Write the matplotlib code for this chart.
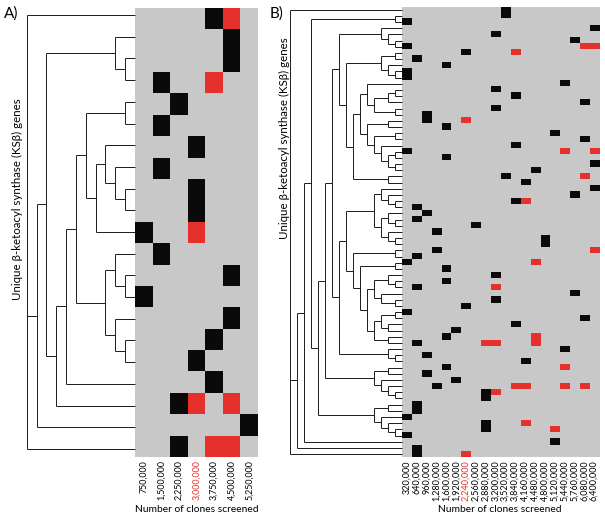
import matplotlib
matplotlib.use("Agg")
import matplotlib.pyplot as plt
import numpy as np
from matplotlib.colors import ListedColormap

plt.rcParams['font.family'] = ['Lato', 'DejaVu Sans']

# ---------------- data ----------------
# 0 = not detected (grey), 1 = detected (black), 2 = detected, highlighted (red)
cols_a = ["750,000", "1,500,000", "2,250,000", "3,000,000", "3,750,000",
          "4,500,000", "5,250,000"]
red_col_a = 3
rows_a = [
    "0000120", "0000010", "0000010", "0100200", "0010000", "0100000",
    "0001000", "0100000", "0001000", "0001000", "1002000", "0100000",
    "0000010", "1000000", "0000010", "0000100", "0001000", "0000100",
    "0012020", "0000001", "0010220",
]

cols_b = ["320,000", "640,000", "960,000", "1,280,000", "1,600,000", "1,920,000",
          "2,240,000", "2,560,000", "2,880,000", "3,200,000", "3,520,000",
          "3,840,000", "4,160,000", "4,480,000", "4,800,000", "5,120,000",
          "5,440,000", "5,760,000", "6,080,000", "6,400,000"]
red_col_b = 6
# (black columns, red columns) for each gene row of panel B
black_b = [[10], [10], [0], [19], [9], [17], [0], [6], [1], [4],
           [0], [0], [16], [9], [11], [18], [9], [2], [2], [4],
           [15], [18], [11], [0], [4], [19], [13], [10], [12], [19],
           [17], [11], [1], [2], [1], [7], [3], [14], [14], [3],
           [1], [0], [4], [9], [4], [1], [17], [9], [6], [0],
           [18], [11], [5], [4], [1], [16], [2], [12], [4], [2],
           [5], [3], [8], [8], [1], [1], [0], [8], [8], [0],
           [15], [1], [1]]
red_b = {6: [18, 19], 7: [11], 18: [6], 23: [16, 19], 27: [18], 31: [12],
         39: [19], 41: [13], 45: [9], 53: [13], 54: [8, 9, 13], 58: [16],
         61: [11, 12, 16, 18], 62: [9], 67: [12], 68: [15], 72: [6]}

# dendrograms: (merge level, child, child, ...) ; integers are gene rows
tree_a = (11, 0,
          (10,
           (9, (2, 1, (1, 2, 3)),
            (8, (7, (6, (5, (1, 4, 5),
                         (4, (3, 6, (2, 7, (1, 8, 9))), 10)),
                     (3, (2, 11, (1, 12, 13)), (2, 14, (1, 15, 16)))),
                 17),
             18)),
           19),
          20)

A_ = (3, 3, (2, 4, (1, 5, 6)))
B_ = (3, (1, 7, 8), (2, 9, (1, 10, 11)))
C1 = (5, 12, (4, (2, (1, 13, 14), 15), (1, 16, 17)))
D_ = (5, (2, 18, 19), (4, (1, 20, 21), (3, 22, (2, (1, 23, 24), (1, 25, 26)))))
C2 = (2, 27, 28)
F_ = (4, (3, 29, (2, 30, (1, 31, 32))), (3, (2, 33, (1, 34, 35)), (2, 36, (1, 37, 38))))
K_ = (5, (4, (2, 43, (1, 44, 45)), (3, 46, (1, 47, 48))),
      (4, (3, (1, 49, 50), (2, 51, 52)), (2, 53, 54)))
G_ = (7, (1, 39, 40), (6, (1, 41, 42), K_))
E_ = (2, 55, (1, 56, 57))
B5 = (4, (2, 58, 59), (3, 60, (2, 61, (1, 62, 63))))
B6 = (4, (2, 64, 65), (3, 66, (2, 67, (1, 68, 69))))
N8 = (9, (8, F_, G_), E_)
N7 = (9, A_, (8, B_, (7, (6, C1, D_), C2)))
tree_b = (16, 0,
          (15, (14, (13, (1, 1, 2),
                     (12, (11, (10, N7, N8), B5), B6)),
                 70),
           71),
          72)

ylabel = "Unique \u03b2-ketoacyl synthase (KS\u03b2) genes"
xlabel = "Number of clones screened"

GREY = "#c8c8c8"
RED = "#e5302c"
cmap = ListedColormap([GREY, "#0a0a0a", RED])

W, H = 605, 518
fig = plt.figure(figsize=(W / 100, H / 100), dpi=100)


def px_axes(x0, y0, x1, y1):
    return fig.add_axes([x0 / W, 1 - y1 / H, (x1 - x0) / W, (y1 - y0) / H])


def draw_tree(ax, node, lw=0.7):
    if isinstance(node, int):
        return float(node), 0.0
    h = node[0]
    pts = [draw_tree(ax, c, lw) for c in node[1:]]
    for cy, ch in pts:
        ax.plot([ch, h], [cy, cy], color="#1a1a1a", lw=lw, clip_on=False,
                solid_capstyle="butt")
    ys = [p[0] for p in pts]
    ax.plot([h, h], [min(ys), max(ys)], color="#1a1a1a", lw=lw, clip_on=False,
            solid_capstyle="butt")
    return (min(ys) + max(ys)) / 2.0, h


def heat(ax, mat, labels, red_col, fs):
    n_r, n_c = mat.shape
    ax.imshow(mat, cmap=cmap, vmin=0, vmax=2, aspect="auto",
              interpolation="nearest")
    ax.set_xticks(np.arange(n_c))
    ax.set_xticklabels(labels, rotation=90, fontsize=fs, va="top")
    ax.get_xticklabels()[red_col].set_color(RED)
    ax.tick_params(axis="x", length=0, pad=2.5)
    ax.set_yticks([])
    for s in ax.spines.values():
        s.set_visible(False)


# ---------------- panel A ----------------
mat_a = np.array([[int(ch) for ch in r] for r in rows_a])
ax_ha = px_axes(135, 8.3, 258, 456.7)
heat(ax_ha, mat_a, cols_a, red_col_a, 6.4)

ax_da = px_axes(0, 4.2, 135, 459.8)
draw_tree(ax_da, tree_a)
ax_da.set_xlim(135 / 9.85, 0)
ax_da.set_ylim(len(rows_a) - 0.5, -0.5)
ax_da.axis("off")

# ---------------- panel B ----------------
mat_b = np.zeros((len(black_b), len(cols_b)), dtype=int)
for r, cs in enumerate(black_b):
    for c in cs:
        mat_b[r, c] = 1
for r, cs in red_b.items():
    for c in cs:
        mat_b[r, c] = 2
ax_hb = px_axes(401.7, 6.7, 599, 457.1)
heat(ax_hb, mat_b, cols_b, red_col_b, 6.5)

ax_db = px_axes(270, 6.7, 401.7, 457.1)
draw_tree(ax_db, tree_b)
ax_db.set_xlim(131.7 / 6.98, 0)
ax_db.set_ylim(len(black_b) - 0.5, -0.5)
ax_db.axis("off")

# ---------------- texts ----------------
fig.text(4 / W, 1 - 14 / H, "A)", fontsize=11, va="center", ha="left")
fig.text(270 / W, 1 - 14 / H, "B)", fontsize=11, va="center", ha="left")
fig.text(17 / W, 1 - 199 / H, ylabel, rotation=90, fontsize=8.3,
         va="center", ha="center")
fig.text(284 / W, 1 - 138 / H, ylabel, rotation=90, fontsize=8.3,
         va="center", ha="center")
fig.text(197 / W, 1 - 510 / H, xlabel, fontsize=7.4, va="center", ha="center")
fig.text(500 / W, 1 - 510 / H, xlabel, fontsize=7.4, va="center", ha="center")

fig.savefig("out.png", dpi=100)
